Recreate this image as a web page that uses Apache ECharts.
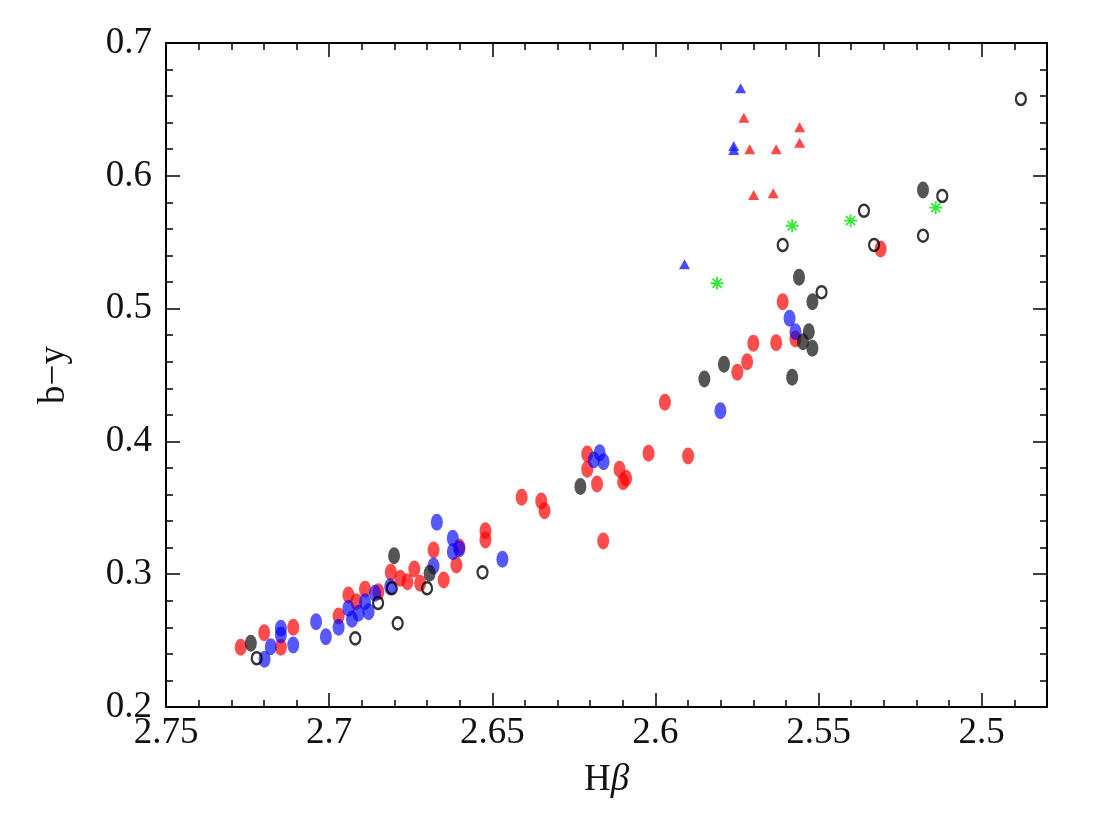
<!DOCTYPE html>
<html>
<head>
<meta charset="utf-8">
<script src="https://cdn.jsdelivr.net/npm/echarts@6/dist/echarts.min.js"></script>
<style>html,body{margin:0;padding:0;background:#fff}#c{width:1100px;height:830px}</style>
</head>
<body>
<div id="c"></div>
<script>
// x tick labels (Hβ) and y tick labels (b−y)
const xMajorTicks = [2.5, 2.55, 2.6, 2.65, 2.7, 2.75];
const yMajorTicks = [0.2, 0.3, 0.4, 0.5, 0.6, 0.7];

// [Hβ, b−y]
const redFilled = [
  [2.7271,0.2450],[2.7199,0.2559],[2.7148,0.2450],[2.7110,0.2600],[2.6971,0.2685],
  [2.6941,0.2843],[2.6917,0.2793],[2.6890,0.2886],[2.6849,0.2868],[2.6811,0.3014],
  [2.6782,0.2969],[2.6760,0.2944],[2.6739,0.3039],[2.6721,0.2931],[2.6680,0.3182],
  [2.6649,0.2956],[2.6610,0.3069],[2.6601,0.3205],[2.6521,0.3328],[2.6521,0.3258],
  [2.6410,0.3579],[2.6350,0.3551],[2.6340,0.3478],[2.6209,0.3905],[2.6209,0.3790],
  [2.6179,0.3679],[2.6160,0.3250],[2.6110,0.3790],[2.6090,0.3722],[2.6099,0.3697],
  [2.6021,0.3910],[2.5900,0.3890],[2.5971,0.4294],[2.5749,0.4520],[2.5719,0.4600],
  [2.5700,0.4739],[2.5630,0.4743],[2.5610,0.5052],[2.5571,0.4771],[2.5310,0.5449]
];
const blueFilled = [
  [2.7198,0.2359],[2.7179,0.2454],[2.7148,0.2593],[2.7148,0.2542],[2.7110,0.2467],
  [2.7040,0.2642],[2.7010,0.2529],[2.6971,0.2600],[2.6941,0.2743],[2.6930,0.2660],
  [2.6910,0.2706],[2.6890,0.2793],[2.6879,0.2718],[2.6859,0.2856],[2.6813,0.2906],
  [2.6680,0.3062],[2.6670,0.3391],[2.6621,0.3270],[2.6621,0.3169],[2.6601,0.3190],
  [2.6469,0.3112],[2.6171,0.3915],[2.6189,0.3860],[2.6159,0.3847],[2.5801,0.4231],
  [2.5589,0.4927],[2.5571,0.4826]
];
const blackFilled = [
  [2.7240,0.2480],[2.6801,0.3139],[2.6692,0.3007],[2.6230,0.3660],[2.5850,0.4470],
  [2.5790,0.4581],[2.5581,0.4483],[2.5560,0.5236],[2.5519,0.5052],[2.5530,0.4826],
  [2.5548,0.4751],[2.5519,0.4701],[2.5180,0.5893]
];
const openCircles = [
  [2.7222,0.2367],[2.6920,0.2517],[2.6850,0.2783],[2.6808,0.2894],[2.6790,0.2630],
  [2.6700,0.2894],[2.6530,0.3014],[2.5610,0.5479],[2.5491,0.5123],[2.5361,0.5737],
  [2.5330,0.5479],[2.5180,0.5549],[2.5121,0.5848],[2.4880,0.6578]
];
const redTriangles = [
  [2.5729,0.6438],[2.5558,0.6365],[2.5558,0.6249],[2.5711,0.6200],[2.5630,0.6200],
  [2.5699,0.5855],[2.5639,0.5868]
];
const blueTriangles = [
  [2.5739,0.6659],[2.5760,0.6224],[2.5760,0.6194],[2.5911,0.5334]
];
const greenStars = [
  [2.5811,0.5191],[2.5581,0.5624],[2.5402,0.5662],[2.5141,0.5760]
];

const FONT = '"Liberation Serif", "DejaVu Serif", serif';
const labelStyle = {fontFamily: FONT, fontSize: 37, color: '#111'};
const lineStyle = {color: '#000', width: 2};

function xAx(pos, major, showLabel) {
  const a = {
    type: 'value', position: pos, min: 2.48, max: 2.75, inverse: true,
    axisLine: {show: major, onZero: false, lineStyle: lineStyle},
    splitLine: {show: false},
    axisTick: {show: true, inside: true, length: major ? 14 : 7, lineStyle: {color: '#000', width: 1.5}},
    axisLabel: {show: false}
  };
  if (major) {
    a.axisTick.customValues = xMajorTicks;
    a.axisLabel = {show: showLabel, customValues: xMajorTicks, margin: 8,
      formatter: v => String(+v.toFixed(2)), ...labelStyle};
  } else {
    a.interval = 0.01;
  }
  if (showLabel) {
    a.name = '{h|H}{b|β}';
    a.nameLocation = 'middle';
    a.nameGap = 55;
    a.nameTextStyle = {rich: {h: {fontFamily: FONT, fontSize: 37, color: '#111'},
                              b: {fontFamily: FONT, fontSize: 37, fontStyle: 'italic', color: '#111'}}};
  }
  return a;
}
function yAx(pos, showLabel) {
  const a = {
    type: 'value', position: pos, min: 0.2, max: 0.7, interval: 0.1,
    axisLine: {show: true, onZero: false, lineStyle: lineStyle},
    splitLine: {show: false},
    axisTick: {show: true, inside: true, length: 14, lineStyle: {color: '#000', width: 1.5}},
    minorTick: {show: true, splitNumber: 5, length: 7, lineStyle: {color: '#000', width: 1.5}},
    axisLabel: {show: showLabel, margin: 14, formatter: v => String(+v.toFixed(1)), ...labelStyle}
  };
  if (showLabel) {
    a.name = 'b−y';
    a.nameLocation = 'middle';
    a.nameGap = 93;
    a.nameTextStyle = {fontFamily: FONT, fontSize: 37, color: '#111'};
  }
  return a;
}

const ell = [12, 17];
function sc(data, color, symbol, size, extra) {
  return Object.assign({
    type: 'scatter', xAxisIndex: 0, yAxisIndex: 0, data: data,
    symbol: symbol, symbolSize: size, silent: true,
    itemStyle: {color: color}
  }, extra || {});
}

const chart = echarts.init(document.getElementById('c'), null, {renderer: 'canvas'});
chart.setOption({
  animation: false,
  backgroundColor: '#fff',
  grid: {left: 166, right: 53, top: 43, bottom: 123, containLabel: false},
  xAxis: [xAx('bottom', true, true), xAx('bottom', false, false), xAx('top', true, false), xAx('top', false, false)],
  yAxis: [yAx('left', true), yAx('right', false)],
  series: [
    sc(redFilled, 'rgba(255,0,0,0.88)', 'circle', ell),
    sc(blueFilled, 'rgba(0,0,255,0.82)', 'circle', ell),
    sc(blackFilled, 'rgba(20,20,20,0.9)', 'circle', ell),
    sc(openCircles, 'rgba(0,0,0,0)', 'circle', [10, 12], {itemStyle: {color: 'rgba(0,0,0,0)', borderColor: '#000', borderWidth: 2.4}}),
    sc(redTriangles, '#ff1a1a', 'triangle', [11, 10]),
    sc(blueTriangles, '#1a1aff', 'triangle', [11, 10]),
    sc(greenStars, 'none', 'path://M0,-10L0,10M-10,0L10,0M-7,-7L7,7M-7,7L7,-7', 13,
       {itemStyle: {color: 'none', borderColor: '#00e600', borderWidth: 1.8}})
  ]
});
</script>
</body>
</html>
